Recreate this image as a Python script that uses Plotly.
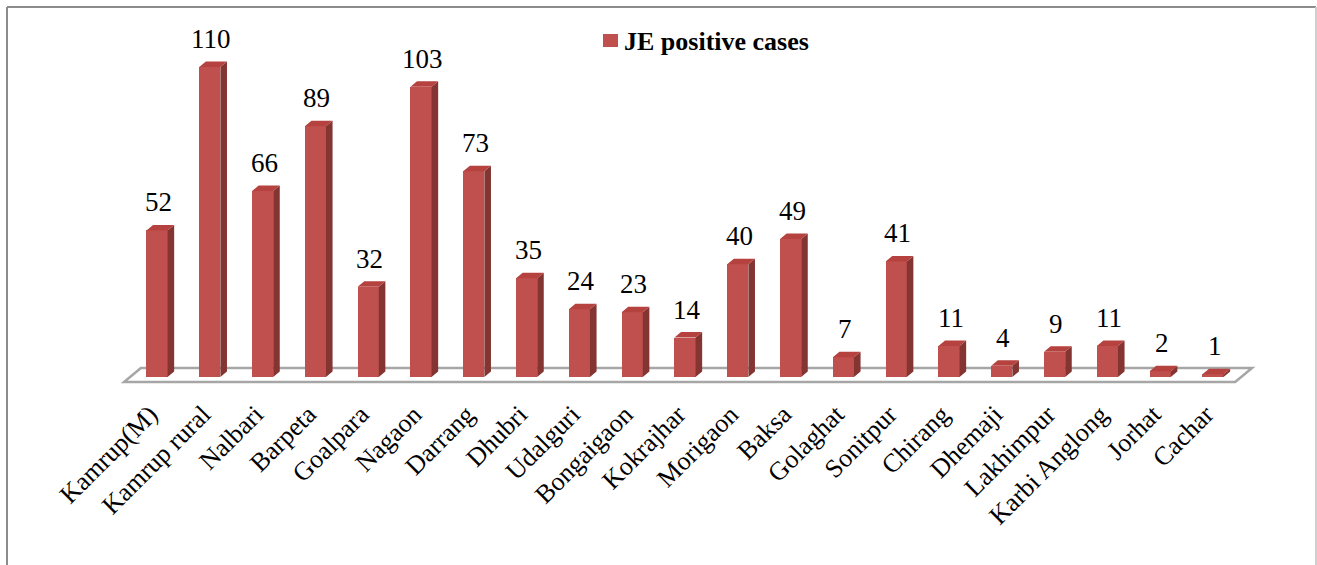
import plotly.graph_objects as go

districts = ["Kamrup(M)", "Kamrup rural", "Nalbari", "Barpeta", "Goalpara", "Nagaon",
             "Darrang", "Dhubri", "Udalguri", "Bongaigaon", "Kokrajhar", "Morigaon",
             "Baksa", "Golaghat", "Sonitpur", "Chirang", "Dhemaji", "Lakhimpur",
             "Karbi Anglong", "Jorhat", "Cachar"]
je_cases = [52, 110, 66, 89, 32, 103, 73, 35, 24, 23, 14, 40, 49, 7, 41, 11, 4, 9, 11, 2, 1]
series_name = "JE positive cases"

FONT = "Liberation Serif, Times New Roman, serif"
FRONT = "#C0504D"
SIDE = "#843532"
TOP = "#B5423F"

W = 0.40      # bar front width (category units)
DX = 0.125    # depth offset x (category units)
DY = 1.95     # depth offset y (value units)

xs = list(range(len(districts)))

side_x, side_y, top_x, top_y = [], [], [], []
for i, v in zip(xs, je_cases):
    r = i + W / 2
    l = i - W / 2
    side_x += [r, r + DX, r + DX, r, r, None]
    side_y += [0, DY, v + DY, v, 0, None]
    top_x += [l, r, r + DX, l + DX, l, None]
    top_y += [v, v, v + DY, v + DY, v, None]

fig = go.Figure()
fig.add_trace(go.Bar(x=xs, y=je_cases, width=W, name=series_name,
                     marker=dict(color=FRONT, line=dict(width=0)),
                     showlegend=False, hoverinfo="x+y"))
fig.add_trace(go.Scatter(x=side_x, y=side_y, mode="lines", fill="toself",
                         fillcolor=SIDE, line=dict(width=0, color=SIDE),
                         showlegend=False, hoverinfo="skip"))
fig.add_trace(go.Scatter(x=top_x, y=top_y, mode="lines", fill="toself",
                         fillcolor=TOP, line=dict(width=0, color=TOP),
                         showlegend=False, hoverinfo="skip"))

# floor of the 3-D plot area
n = len(districts)
fl, fr = -0.625, (n - 1) + 0.42
fd_x, f_front, f_back = 0.32, -1.8, 3.2
fig.add_shape(type="path", xref="x", yref="y", layer="below",
              path=f"M{fl},{f_front} L{fr},{f_front} L{fr + fd_x},{f_back} L{fl + fd_x},{f_back} Z",
              line=dict(color="#A6A6A6", width=2.5), fillcolor="white")

for i, v in zip(xs, je_cases):
    fig.add_annotation(x=i + 0.03, y=v, text=str(v), showarrow=False, xref="x", yref="y",
                       yanchor="bottom", yshift=11,
                       font=dict(family=FONT, size=27, color="black"))

# legend (key square + bold label)
L, R, T, B = 100, 1290, 20, 393
PW, PH = R - L, B - T
def px(x):
    return (x - L) / PW
def py(y):
    return (B - y) / PH
fig.add_shape(type="rect", xref="paper", yref="paper", x0=px(603), x1=px(618), y0=py(47), y1=py(34),
              line=dict(width=0), fillcolor=FRONT)
fig.add_annotation(xref="paper", yref="paper", x=px(622), y=py(41), xanchor="left", yanchor="middle",
                   text=f"<b>{series_name}</b>", showarrow=False,
                   font=dict(family=FONT, size=26, color="black"))

# chart border
fig.add_shape(type="line", xref="paper", yref="paper", x0=px(7), x1=px(7), y0=py(7), y1=py(600),
              line=dict(color="#8C8C8C", width=2))
fig.add_shape(type="line", xref="paper", yref="paper", x0=px(7), x1=px(1316), y0=py(7), y1=py(7),
              line=dict(color="#8C8C8C", width=2))
fig.add_shape(type="line", xref="paper", yref="paper", x0=px(1316), x1=px(1316), y0=py(7), y1=py(600),
              line=dict(color="#D0D0D0", width=2))

base_px = 377
scale = 2.818
fig.update_layout(
    width=1317, height=565,
    margin=dict(l=L, r=1317 - R, t=T, b=565 - B),
    paper_bgcolor="white", plot_bgcolor="white",
    font=dict(family=FONT, color="black"),
    showlegend=False,
    xaxis=dict(range=[-(157 - L) / 52.8, 20 + (R - 1213) / 52.8], tickmode="array",
               tickvals=xs, ticktext=districts,
               tickangle=-45, showgrid=False, zeroline=False, showline=False, ticks="",
               ticklabelshift=-7,
               tickfont=dict(family=FONT, size=26, color="black"), fixedrange=True),
    yaxis=dict(range=[-(B - base_px) / scale, (base_px - T) / scale], visible=False,
               showgrid=False, zeroline=False, fixedrange=True),
    bargap=0,
)

fig.write_html("out.html", config={"displayModeBar": False},
               post_script="document.body.style.margin='0';")
